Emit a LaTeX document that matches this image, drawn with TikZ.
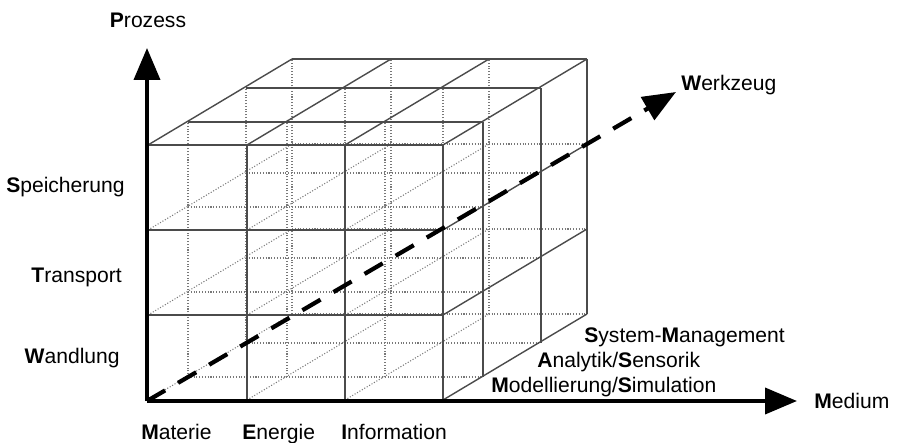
\documentclass[tikz,border=0pt]{standalone}
\usepackage{fontspec}
\setmainfont{Liberation Sans}
\usepackage{tikz}
\usetikzlibrary{arrows.meta,positioning,calc}
\definecolor{gridgray}{RGB}{75,75,75}
\definecolor{hiddengray}{RGB}{120,120,120}

\begin{document}
\begin{tikzpicture}[
    x=0.02cm, y=-0.02cm,
    visible/.style={gridgray, line width=0.8pt},
    hidden/.style={hiddengray, line width=0.6pt, densely dotted},
    axis/.style={line width=2.2pt, -{Triangle[length=0.64cm, width=0.52cm]}},
    tool/.style={line width=2.4pt, dash pattern=on 0.42cm off 0.3cm, -{Triangle[length=0.66cm, width=0.52cm]}},
    label/.style={font=\fontsize{12}{14}\selectfont, text=black, inner sep=0pt}
]
\useasboundingbox (0,0) rectangle (900,443);

% Hidden grid lines (inner layers)
\foreach \dx/\dy in {40/23,98/57,144/86} {
  \foreach \x in {148,247,345} \draw[hidden] (\x+\dx,400-\dy) -- (\x+\dx,145-\dy);
  \foreach \y in {400,315,230} \draw[hidden] (148+\dx,\y-\dy) -- (443+\dx,\y-\dy);
}
\foreach \x in {148,247,345} \foreach \y in {400,315,230} \draw[hidden] (\x,\y) -- ++(144,-86);

% Front face
\foreach \x in {247,345,443} \draw[visible] (\x,400) -- (\x,145);
\foreach \y in {315,230,145} \draw[visible] (148,\y) -- (443,\y);

% Top and right face
\foreach \dx/\dy in {40/23,98/57,144/86} {
  \draw[visible] (148+\dx,145-\dy) -- (443+\dx,145-\dy);
  \draw[visible] (443+\dx,400-\dy) -- (443+\dx,145-\dy);
}
\foreach \x in {148,247,345,443} \draw[visible] (\x,145) -- ++(144,-86);
\foreach \y in {400,315,230} \draw[visible] (443,\y) -- ++(144,-86);

% Axes
\coordinate (origin) at (147,401);
\coordinate (prozesstip) at (147,48);
\coordinate (mediumtip) at (797,401);
\coordinate (werkzeugtip) at (676,92);
\draw[axis] (origin) -- (prozesstip);
\draw[axis] (origin) -- (mediumtip);
\draw[tool] (origin) -- (werkzeugtip);

% Axis labels
\node[label] (prozess) at (148,20) {\textbf{P}rozess};
\node[label, anchor=base west] (medium) at (814,408) {\textbf{M}edium};
\node[label, anchor=base west] (werkzeug) at (681,90) {\textbf{W}erkzeug};

% Process labels
\node[label, anchor=base east] (speicherung) at (125,192) {\textbf{S}peicherung};
\node[label, anchor=base east] (transport) at (122,282) {\textbf{T}ransport};
\node[label, anchor=base east] (wandlung) at (120,363) {\textbf{W}andlung};

% Medium labels
\node[label, anchor=base west] (materie) at (141,439) {\textbf{M}aterie};
\node[label, anchor=base west] (energie) at (242,439) {\textbf{E}nergie};
\node[label, anchor=base west] (information) at (341,439) {\textbf{I}nformation};

% Tool labels
\node[label, anchor=base west] (sysman) at (584,342) {\textbf{S}ystem-\textbf{M}anagement};
\node[label, anchor=base west] (analytik) at (537,367) {\textbf{A}nalytik/\textbf{S}ensorik};
\node[label, anchor=base west] (modsim) at (491,392) {\textbf{M}odellierung/\textbf{S}imulation};

\end{tikzpicture}
\end{document}
